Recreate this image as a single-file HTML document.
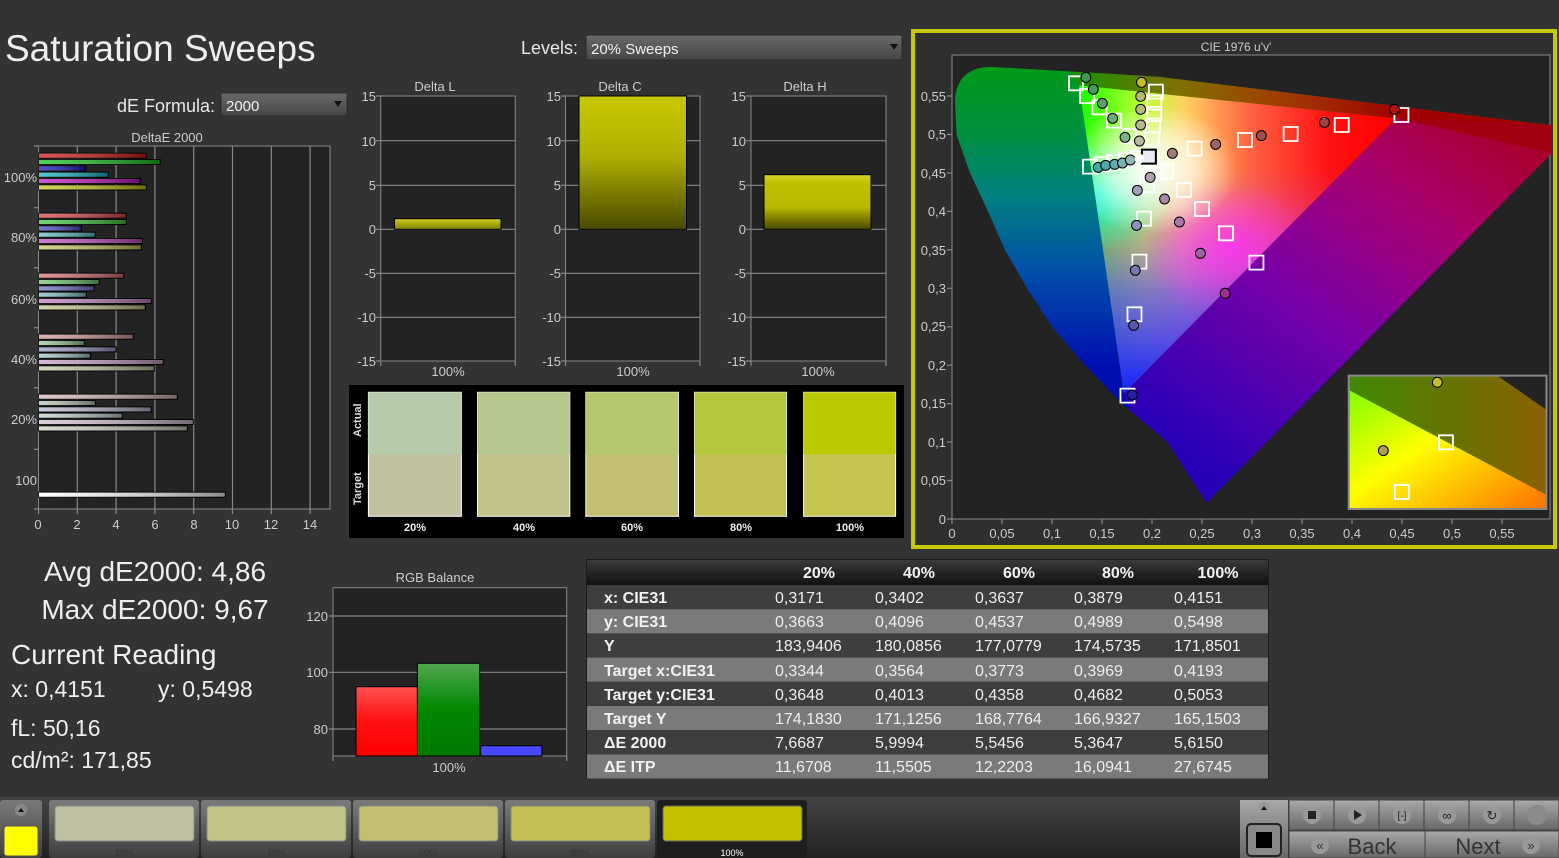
<!DOCTYPE html>
<html><head><meta charset="utf-8"><style>
html,body{margin:0;padding:0;background:#333;}
svg{display:block;}
text{font-family:"Liberation Sans",sans-serif;}
</style></head><body>
<svg width="1559" height="858" viewBox="0 0 1559 858" xmlns="http://www.w3.org/2000/svg">
<defs>
<linearGradient id="shade" x1="0" x2="1" y1="0" y2="0"><stop offset="0" stop-color="#fff" stop-opacity="0.25"/><stop offset="1" stop-color="#000" stop-opacity="0.45"/></linearGradient>
<linearGradient id="ybar" x1="0" x2="0" y1="0" y2="1"><stop offset="0" stop-color="#c8c800"/><stop offset="0.45" stop-color="#b0b000"/><stop offset="1" stop-color="#4a4a00"/></linearGradient>
<linearGradient id="ybarH" x1="0" x2="0" y1="0" y2="1"><stop offset="0" stop-color="#d4d430"/><stop offset="0.15" stop-color="#c0c000"/><stop offset="0.6" stop-color="#b8b800"/><stop offset="1" stop-color="#4a4a00"/></linearGradient>
<linearGradient id="ybarL" x1="0" x2="0" y1="0" y2="1"><stop offset="0" stop-color="#d0d020"/><stop offset="1" stop-color="#808000"/></linearGradient>
<linearGradient id="rbar" x1="0" x2="0" y1="0" y2="1"><stop offset="0" stop-color="#ff5050"/><stop offset="0.5" stop-color="#ff1010"/><stop offset="1" stop-color="#f00"/></linearGradient>
<linearGradient id="gbar" x1="0" x2="0" y1="0" y2="1"><stop offset="0" stop-color="#50a850"/><stop offset="0.5" stop-color="#008800"/><stop offset="1" stop-color="#007800"/></linearGradient>
<linearGradient id="dd" x1="0" x2="0" y1="0" y2="1"><stop offset="0" stop-color="#6a6a6a"/><stop offset="1" stop-color="#454545"/></linearGradient>
<linearGradient id="thead" x1="0" x2="0" y1="0" y2="1"><stop offset="0" stop-color="#3a3a3a"/><stop offset="1" stop-color="#111"/></linearGradient>
<linearGradient id="btm" x1="0" x2="0" y1="0" y2="1"><stop offset="0" stop-color="#444"/><stop offset="1" stop-color="#222"/></linearGradient>
<linearGradient id="btn" x1="0" x2="0" y1="0" y2="1"><stop offset="0" stop-color="#7a7a7a"/><stop offset="1" stop-color="#3e3e3e"/></linearGradient>
<linearGradient id="btn2" x1="0" x2="0" y1="0" y2="1"><stop offset="0" stop-color="#a8a8a8"/><stop offset="1" stop-color="#686868"/></linearGradient>
<linearGradient id="outerV" gradientUnits="userSpaceOnUse" x1="0" y1="0.59" x2="0" y2="0"><stop offset="0" stop-color="#009a18"/><stop offset="0.15" stop-color="#009040"/><stop offset="0.29" stop-color="#008080"/><stop offset="0.45" stop-color="#0050a8"/><stop offset="0.66" stop-color="#0010b0"/><stop offset="1" stop-color="#0000a0"/></linearGradient>
<linearGradient id="purp" gradientUnits="userSpaceOnUse" x1="0.22" y1="0.1" x2="0.6" y2="0.5"><stop offset="0" stop-color="#2800b8"/><stop offset="0.4" stop-color="#7800a8"/><stop offset="0.7" stop-color="#a80070"/><stop offset="1" stop-color="#a80020"/></linearGradient>
<linearGradient id="topband" gradientUnits="userSpaceOnUse" x1="0.13" y1="0" x2="0.45" y2="0"><stop offset="0" stop-color="#209000"/><stop offset="0.3" stop-color="#807000"/><stop offset="0.6" stop-color="#a04000"/><stop offset="1" stop-color="#a00000"/></linearGradient>
<linearGradient id="triH" gradientUnits="userSpaceOnUse" x1="0.13" y1="0" x2="0.44" y2="0"><stop offset="0" stop-color="#20ff00"/><stop offset="0.2" stop-color="#c0ff30"/><stop offset="0.33" stop-color="#ffd060"/><stop offset="0.55" stop-color="#ff6040"/><stop offset="0.8" stop-color="#ff1010"/><stop offset="1" stop-color="#ff0000"/></linearGradient>
<linearGradient id="triV" gradientUnits="userSpaceOnUse" x1="0" y1="0.16" x2="0" y2="0.46"><stop offset="0" stop-color="#1020ff" stop-opacity="1"/><stop offset="0.45" stop-color="#6040ff" stop-opacity="0.7"/><stop offset="0.75" stop-color="#c040ff" stop-opacity="0.3"/><stop offset="1" stop-color="#c040ff" stop-opacity="0"/></linearGradient>
<radialGradient id="triW" gradientUnits="userSpaceOnUse" cx="0.2" cy="0.455" r="0.085"><stop offset="0" stop-color="#fff" stop-opacity="1"/><stop offset="0.5" stop-color="#fff" stop-opacity="0.65"/><stop offset="1" stop-color="#fff" stop-opacity="0"/></radialGradient>
<radialGradient id="triC" gradientUnits="userSpaceOnUse" cx="0.15" cy="0.42" r="0.07"><stop offset="0" stop-color="#00ffff" stop-opacity="0.8"/><stop offset="1" stop-color="#00ffff" stop-opacity="0"/></radialGradient>
<radialGradient id="triM" gradientUnits="userSpaceOnUse" cx="0.28" cy="0.35" r="0.09"><stop offset="0" stop-color="#ff30ff" stop-opacity="0.8"/><stop offset="1" stop-color="#ff30ff" stop-opacity="0"/></radialGradient>
<clipPath id="horse"><path d="M0.2546,0.021 L0.2155,0.1 L0.17,0.15 L0.133,0.2 L0.1,0.25 L0.075,0.3 L0.053,0.35 L0.036,0.4 L0.018,0.45 L0.0045,0.5 L0.003,0.545 Q0.005,0.588 0.04,0.588 L0.207,0.575 L0.6,0.512 L0.6,0.476 Z"/></clipPath>
<linearGradient id="insB" x1="0" y1="0" x2="1" y2="1"><stop offset="0" stop-color="#70ff00"/><stop offset="0.45" stop-color="#ffff00"/><stop offset="1" stop-color="#ff7000"/></linearGradient>
<linearGradient id="insD" x1="0" y1="0" x2="1" y2="0"><stop offset="0" stop-color="#408a00"/><stop offset="1" stop-color="#8a6000"/></linearGradient>
</defs>

<rect width="1559" height="858" fill="#333"/>

<text x="5" y="61" font-size="37" fill="#eee">Saturation Sweeps</text>
<text x="215" y="112" font-size="18" fill="#e8e8e8" text-anchor="end">dE Formula:</text>
<rect x="221" y="93" width="126" height="23" fill="url(#dd)" stroke="#2a2a2a"/>
<text x="226" y="111" font-size="15" fill="#f0f0f0">2000</text>
<path d="M334,101 l8,0 l-4,6z" fill="#111"/>
<text x="578" y="54" font-size="18" fill="#e8e8e8" text-anchor="end">Levels:</text>
<rect x="586" y="35" width="316" height="25" fill="url(#dd)" stroke="#2a2a2a"/>
<text x="591" y="54" font-size="15" fill="#f0f0f0">20% Sweeps</text>
<path d="M890,44 l8,0 l-4,6z" fill="#111"/>

<text x="167" y="142" font-size="13" fill="#ccc" text-anchor="middle">DeltaE 2000</text>
<rect x="38.5" y="146" width="291.5" height="363" fill="#232323" stroke="#888"/>
<g stroke="#888" stroke-width="1.2">
<line x1="77.3" y1="146" x2="77.3" y2="509"/><line x1="116.1" y1="146" x2="116.1" y2="509"/><line x1="154.9" y1="146" x2="154.9" y2="509"/><line x1="193.7" y1="146" x2="193.7" y2="509"/><line x1="232.5" y1="146" x2="232.5" y2="509"/><line x1="271.3" y1="146" x2="271.3" y2="509"/><line x1="310.1" y1="146" x2="310.1" y2="509"/>
<line x1="34" y1="146" x2="38.5" y2="146"/><line x1="34" y1="207.7" x2="38.5" y2="207.7"/><line x1="34" y1="267.7" x2="38.5" y2="267.7"/><line x1="34" y1="327.7" x2="38.5" y2="327.7"/><line x1="34" y1="387.7" x2="38.5" y2="387.7"/><line x1="34" y1="449.3" x2="38.5" y2="449.3"/><line x1="34" y1="509" x2="38.5" y2="509"/>
<line x1="38.5" y1="509" x2="38.5" y2="514"/><line x1="77.3" y1="509" x2="77.3" y2="514"/><line x1="116.1" y1="509" x2="116.1" y2="514"/><line x1="154.9" y1="509" x2="154.9" y2="514"/><line x1="193.7" y1="509" x2="193.7" y2="514"/><line x1="232.5" y1="509" x2="232.5" y2="514"/><line x1="271.3" y1="509" x2="271.3" y2="514"/><line x1="310.1" y1="509" x2="310.1" y2="514"/>
</g>
<g font-size="13" fill="#ccc" text-anchor="end">
<text x="37" y="182">100%</text><text x="37" y="242">80%</text><text x="37" y="304">60%</text><text x="37" y="364">40%</text><text x="37" y="424">20%</text><text x="37" y="485">100</text>
</g>
<g font-size="13" fill="#ccc" text-anchor="middle">
<text x="38" y="529">0</text><text x="77" y="529">2</text><text x="116" y="529">4</text><text x="155" y="529">6</text><text x="194" y="529">8</text><text x="232" y="529">10</text><text x="271" y="529">12</text><text x="310" y="529">14</text>
</g>
<g stroke="#000" stroke-width="1">
<rect x="38.5" y="153.2" width="108.2" height="5" fill="#d01818"/><rect x="38.5" y="159.5" width="121.8" height="5" fill="#18c020"/><rect x="38.5" y="165.9" width="47.2" height="5" fill="#1818c0"/><rect x="38.5" y="172.2" width="69.8" height="5" fill="#18b8c0"/><rect x="38.5" y="178.5" width="101.8" height="5" fill="#c018c0"/><rect x="38.5" y="184.9" width="107.8" height="5" fill="#c8c818"/>
<rect x="38.5" y="213.2" width="87.8" height="5" fill="#d84848"/><rect x="38.5" y="219.5" width="87.8" height="5" fill="#40c840"/><rect x="38.5" y="225.9" width="42.8" height="5" fill="#4848c8"/><rect x="38.5" y="232.2" width="56.8" height="5" fill="#60c0c0"/><rect x="38.5" y="238.5" width="103.8" height="5" fill="#c050c0"/><rect x="38.5" y="244.9" width="102.8" height="5" fill="#c8c860"/>
<rect x="38.5" y="273.2" width="85.2" height="5" fill="#d87070"/><rect x="38.5" y="279.5" width="60.8" height="5" fill="#70c870"/><rect x="38.5" y="285.9" width="55.8" height="5" fill="#7070c8"/><rect x="38.5" y="292.2" width="47.8" height="5" fill="#80c0c0"/><rect x="38.5" y="298.5" width="112.8" height="5" fill="#c080c0"/><rect x="38.5" y="304.9" width="106.8" height="5" fill="#c8c890"/>
<rect x="38.5" y="334.2" width="94.8" height="5" fill="#d89898"/><rect x="38.5" y="340.5" width="45.8" height="5" fill="#98c898"/><rect x="38.5" y="346.9" width="77.8" height="5" fill="#9898c8"/><rect x="38.5" y="353.2" width="51.8" height="5" fill="#a0c8c8"/><rect x="38.5" y="359.5" width="124.8" height="5" fill="#c8a0c8"/><rect x="38.5" y="365.9" width="115.8" height="5" fill="#c8c8a8"/>
<rect x="38.5" y="394.2" width="138.8" height="5" fill="#d8b8b8"/><rect x="38.5" y="400.5" width="56.8" height="5" fill="#b8c8b8"/><rect x="38.5" y="406.9" width="112.8" height="5" fill="#b8b8d0"/><rect x="38.5" y="413.2" width="83.8" height="5" fill="#c0d0d0"/><rect x="38.5" y="419.5" width="154.8" height="5" fill="#d0c0d0"/><rect x="38.5" y="425.9" width="148.8" height="5" fill="#d0d0c0"/>
<rect x="38.5" y="492.2" width="186.8" height="5" fill="#ffffff"/>
</g>
<g fill="url(#shade)">
<rect x="38.5" y="153.2" width="108.2" height="5"/><rect x="38.5" y="159.5" width="121.8" height="5"/><rect x="38.5" y="165.9" width="47.2" height="5"/><rect x="38.5" y="172.2" width="69.8" height="5"/><rect x="38.5" y="178.5" width="101.8" height="5"/><rect x="38.5" y="184.9" width="107.8" height="5"/>
<rect x="38.5" y="213.2" width="87.8" height="5"/><rect x="38.5" y="219.5" width="87.8" height="5"/><rect x="38.5" y="225.9" width="42.8" height="5"/><rect x="38.5" y="232.2" width="56.8" height="5"/><rect x="38.5" y="238.5" width="103.8" height="5"/><rect x="38.5" y="244.9" width="102.8" height="5"/>
<rect x="38.5" y="273.2" width="85.2" height="5"/><rect x="38.5" y="279.5" width="60.8" height="5"/><rect x="38.5" y="285.9" width="55.8" height="5"/><rect x="38.5" y="292.2" width="47.8" height="5"/><rect x="38.5" y="298.5" width="112.8" height="5"/><rect x="38.5" y="304.9" width="106.8" height="5"/>
<rect x="38.5" y="334.2" width="94.8" height="5"/><rect x="38.5" y="340.5" width="45.8" height="5"/><rect x="38.5" y="346.9" width="77.8" height="5"/><rect x="38.5" y="353.2" width="51.8" height="5"/><rect x="38.5" y="359.5" width="124.8" height="5"/><rect x="38.5" y="365.9" width="115.8" height="5"/>
<rect x="38.5" y="394.2" width="138.8" height="5"/><rect x="38.5" y="400.5" width="56.8" height="5"/><rect x="38.5" y="406.9" width="112.8" height="5"/><rect x="38.5" y="413.2" width="83.8" height="5"/><rect x="38.5" y="419.5" width="154.8" height="5"/><rect x="38.5" y="425.9" width="148.8" height="5"/>
<rect x="38.5" y="492.2" width="186.8" height="5"/>
</g>

<g font-size="13" fill="#ccc" text-anchor="middle">
<text x="435" y="91">Delta L</text><text x="620" y="91">Delta C</text><text x="805" y="91">Delta H</text>
<text x="448" y="376">100%</text><text x="633" y="376">100%</text><text x="818" y="376">100%</text>
</g>
<g>
<rect x="380.7" y="96" width="134.6" height="265" fill="#232323" stroke="#888"/>
<rect x="565.5" y="96" width="134.5" height="265" fill="#232323" stroke="#888"/>
<rect x="751" y="96" width="135" height="265" fill="#232323" stroke="#888"/>
</g>
<g stroke="#888" stroke-width="1.2">
<path d="M380.7,140.7H515.3M380.7,185.3H515.3M380.7,229.3H515.3M380.7,273.3H515.3M380.7,317.3H515.3"/>
<path d="M565.5,140.7H700M565.5,185.3H700M565.5,229.3H700M565.5,273.3H700M565.5,317.3H700"/>
<path d="M751,140.7H886M751,185.3H886M751,229.3H886M751,273.3H886M751,317.3H886"/>
<path d="M376,96h5M376,140.7h5M376,185.3h5M376,229.3h5M376,273.3h5M376,317.3h5M376,361h5M380.7,361v5M515.3,361v5"/>
<path d="M561,96h5M561,140.7h5M561,185.3h5M561,229.3h5M561,273.3h5M561,317.3h5M561,361h5M565.5,361v5M700,361v5"/>
<path d="M746,96h5M746,140.7h5M746,185.3h5M746,229.3h5M746,273.3h5M746,317.3h5M746,361h5M751,361v5M886,361v5"/>
</g>
<g font-size="13" fill="#ccc" text-anchor="end">
<text x="376" y="101">15</text><text x="376" y="146">10</text><text x="376" y="190">5</text><text x="376" y="234">0</text><text x="376" y="278">-5</text><text x="376" y="322">-10</text><text x="376" y="366">-15</text>
<text x="561" y="101">15</text><text x="561" y="146">10</text><text x="561" y="190">5</text><text x="561" y="234">0</text><text x="561" y="278">-5</text><text x="561" y="322">-10</text><text x="561" y="366">-15</text>
<text x="746" y="101">15</text><text x="746" y="146">10</text><text x="746" y="190">5</text><text x="746" y="234">0</text><text x="746" y="278">-5</text><text x="746" y="322">-10</text><text x="746" y="366">-15</text>
</g>
<rect x="394.5" y="218.7" width="106.5" height="10.6" fill="url(#ybarL)" stroke="#000"/>
<rect x="579" y="96" width="107.5" height="133.3" fill="url(#ybar)" stroke="#000"/>
<rect x="764" y="174.7" width="107" height="54.6" fill="url(#ybarH)" stroke="#000"/>

<rect x="349" y="385" width="555" height="153" fill="#000"/>
<text transform="translate(361,437) rotate(-90)" font-size="11" fill="#ddd" font-weight="bold">Actual</text>
<text transform="translate(361,505) rotate(-90)" font-size="11" fill="#ddd" font-weight="bold">Target</text>
<g stroke="#fff" stroke-width="1">
<rect x="368.4" y="392.3" width="93" height="124" fill="#c1c1a0"/><rect x="368.4" y="392.3" width="93" height="62" fill="#b5c9ab" stroke="none"/>
<rect x="477.5" y="392.3" width="92.3" height="124" fill="#c2c28a"/><rect x="477.5" y="392.3" width="92.3" height="62" fill="#b5c98e" stroke="none"/>
<rect x="585.8" y="392.3" width="92.7" height="124" fill="#c2c070"/><rect x="585.8" y="392.3" width="92.7" height="62" fill="#b5c86e" stroke="none"/>
<rect x="694.5" y="392.3" width="92" height="124" fill="#c2c050"/><rect x="694.5" y="392.3" width="92" height="62" fill="#b4c63c" stroke="none"/>
<rect x="803.6" y="392.3" width="92" height="124" fill="#c4c44e"/><rect x="803.6" y="392.3" width="92" height="62" fill="#bac800" stroke="none"/>
</g>
<g font-size="11" fill="#eee" text-anchor="middle" font-weight="bold">
<text x="415" y="531">20%</text><text x="524" y="531">40%</text><text x="632" y="531">60%</text><text x="741" y="531">80%</text><text x="850" y="531">100%</text>
</g>

<g fill="#eee">
<text x="155" y="581" font-size="28" text-anchor="middle">Avg dE2000: 4,86</text>
<text x="155" y="619" font-size="28" text-anchor="middle">Max dE2000: 9,67</text>
<text x="11" y="664" font-size="28">Current Reading</text>
<text x="11" y="697" font-size="23">x: 0,4151</text>
<text x="158" y="697" font-size="23">y: 0,5498</text>
<text x="11" y="736" font-size="23">fL: 50,16</text>
<text x="11" y="768" font-size="23">cd/m²: 171,85</text>
</g>

<text x="435" y="582" font-size="13" fill="#ccc" text-anchor="middle">RGB Balance</text>
<rect x="333" y="587.7" width="233.7" height="168.3" fill="#232323" stroke="#888"/>
<g stroke="#888" stroke-width="1.2"><path d="M333,616H566.7M333,672.3H566.7M333,729H566.7M329,616h4M329,672.3h4M329,729h4M333,756v5M566.7,756v5"/></g>
<g font-size="13" fill="#ccc" text-anchor="end"><text x="328" y="621">120</text><text x="328" y="677">100</text><text x="328" y="734">80</text></g>
<text x="449" y="772" font-size="13" fill="#ccc" text-anchor="middle">100%</text>
<rect x="356" y="686.7" width="61.4" height="69.3" fill="url(#rbar)" stroke="#000"/>
<rect x="417.4" y="663.3" width="62.2" height="92.7" fill="url(#gbar)" stroke="#000"/>
<rect x="480.7" y="745.7" width="61.2" height="10.3" fill="#4848ff" stroke="#000"/>

<rect x="586" y="559" width="683" height="220" fill="#1a1a1a"/>
<rect x="587" y="560" width="681" height="25" fill="url(#thead)"/>
<rect x="587" y="585" width="681" height="24.2" fill="#3e3e3e"/>
<rect x="587" y="609.2" width="681" height="24.2" fill="#7a7a7a"/>
<rect x="587" y="633.4" width="681" height="24.2" fill="#3e3e3e"/>
<rect x="587" y="657.6" width="681" height="24.2" fill="#7a7a7a"/>
<rect x="587" y="681.8" width="681" height="24.2" fill="#3e3e3e"/>
<rect x="587" y="706" width="681" height="24.2" fill="#7a7a7a"/>
<rect x="587" y="730.2" width="681" height="24.2" fill="#3e3e3e"/>
<rect x="587" y="754.4" width="681" height="24.2" fill="#7a7a7a"/>
<g font-size="16" fill="#f2f2f2" text-anchor="middle" font-weight="bold">
<text x="819" y="578">20%</text><text x="919" y="578">40%</text><text x="1019" y="578">60%</text><text x="1118" y="578">80%</text><text x="1218" y="578">100%</text>
</g>
<g font-size="16" fill="#f2f2f2" font-weight="bold">
<text x="604" y="603">x: CIE31</text><text x="604" y="627">y: CIE31</text><text x="604" y="651">Y</text><text x="604" y="676">Target x:CIE31</text><text x="604" y="700">Target y:CIE31</text><text x="604" y="724">Target Y</text><text x="604" y="748">ΔE 2000</text><text x="604" y="772">ΔE ITP</text>
</g>
<g font-size="16" fill="#eee">
<text x="775" y="603">0,3171</text><text x="875" y="603">0,3402</text><text x="975" y="603">0,3637</text><text x="1074" y="603">0,3879</text><text x="1174" y="603">0,4151</text>
<text x="775" y="627">0,3663</text><text x="875" y="627">0,4096</text><text x="975" y="627">0,4537</text><text x="1074" y="627">0,4989</text><text x="1174" y="627">0,5498</text>
<text x="775" y="651">183,9406</text><text x="875" y="651">180,0856</text><text x="975" y="651">177,0779</text><text x="1074" y="651">174,5735</text><text x="1174" y="651">171,8501</text>
<text x="775" y="676">0,3344</text><text x="875" y="676">0,3564</text><text x="975" y="676">0,3773</text><text x="1074" y="676">0,3969</text><text x="1174" y="676">0,4193</text>
<text x="775" y="700">0,3648</text><text x="875" y="700">0,4013</text><text x="975" y="700">0,4358</text><text x="1074" y="700">0,4682</text><text x="1174" y="700">0,5053</text>
<text x="775" y="724">174,1830</text><text x="875" y="724">171,1256</text><text x="975" y="724">168,7764</text><text x="1074" y="724">166,9327</text><text x="1174" y="724">165,1503</text>
<text x="775" y="748">7,6687</text><text x="875" y="748">5,9994</text><text x="975" y="748">5,5456</text><text x="1074" y="748">5,3647</text><text x="1174" y="748">5,6150</text>
<text x="775" y="772">11,6708</text><text x="875" y="772">11,5505</text><text x="975" y="772">12,2203</text><text x="1074" y="772">16,0941</text><text x="1174" y="772">27,6745</text>
</g>

<rect x="913" y="31" width="642" height="516" fill="#2f2f2f" stroke="#c8c800" stroke-width="4"/>
<text x="1236" y="51" font-size="12" fill="#ccc" text-anchor="middle">CIE 1976 u'v'</text>
<rect x="952" y="55" width="598" height="464" fill="#232323" stroke="#888"/>
<g transform="matrix(1000 0 0 -769 952 519)">
<g clip-path="url(#horse)">
<rect x="0" y="0" width="0.6" height="0.6" fill="url(#outerV)"/>
<polygon points="0.172,0.164 0.444,0.521 0.6,0.512 0.6,0.476 0.2546,0.021 0.2,0.05" fill="url(#purp)"/>
<polygon points="0.127,0.564 0.11,0.6 0.6,0.6 0.6,0.512 0.444,0.521" fill="url(#topband)"/>
<polygon points="0.444,0.521 0.6,0.512 0.6,0.476" fill="#a00010"/>
</g>
<polygon points="0.127,0.564 0.444,0.521 0.172,0.164" fill="url(#triH)"/>
<polygon points="0.127,0.564 0.444,0.521 0.172,0.164" fill="url(#triV)"/>
<polygon points="0.127,0.564 0.444,0.521 0.172,0.164" fill="url(#triM)"/>
<polygon points="0.127,0.564 0.444,0.521 0.172,0.164" fill="url(#triC)"/>
<polygon points="0.127,0.564 0.444,0.521 0.172,0.164" fill="url(#triW)"/>
</g>
<g stroke="#888" stroke-width="1.2">
<path d="M947,519h5M947,480.5h5M947,442h5M947,403.6h5M947,365.2h5M947,326.8h5M947,288.3h5M947,249.9h5M947,211.4h5M947,173h5M947,134.5h5M947,96h5"/>
<path d="M952,519v5M1002,519v5M1052,519v5M1102,519v5M1152,519v5M1202,519v5M1252,519v5M1302,519v5M1352,519v5M1402,519v5M1452,519v5M1502,519v5"/>
</g>
<g font-size="13" fill="#ccc" text-anchor="end">
<text x="946" y="524">0</text><text x="946" y="485">0,05</text><text x="946" y="447">0,1</text><text x="946" y="408">0,15</text><text x="946" y="370">0,2</text><text x="946" y="331">0,25</text><text x="946" y="293">0,3</text><text x="946" y="255">0,35</text><text x="946" y="216">0,4</text><text x="946" y="178">0,45</text><text x="946" y="139">0,5</text><text x="946" y="101">0,55</text>
</g>
<g font-size="13" fill="#ccc" text-anchor="middle">
<text x="952" y="538">0</text><text x="1002" y="538">0,05</text><text x="1052" y="538">0,1</text><text x="1102" y="538">0,15</text><text x="1152" y="538">0,2</text><text x="1202" y="538">0,25</text><text x="1252" y="538">0,3</text><text x="1302" y="538">0,35</text><text x="1352" y="538">0,4</text><text x="1402" y="538">0,45</text><text x="1452" y="538">0,5</text><text x="1502" y="538">0,55</text>
</g>
<g transform="translate(912,30) scale(0.4120,0.3333)">
<g fill="none" stroke="#fff" stroke-width="1.8">
<rect x="381" y="139" width="34" height="42" vector-effect="non-scaling-stroke"/><rect x="408" y="177" width="34" height="42" vector-effect="non-scaling-stroke"/><rect x="438" y="211" width="34" height="42" vector-effect="non-scaling-stroke"/><rect x="473" y="251" width="34" height="42" vector-effect="non-scaling-stroke"/><rect x="510" y="297" width="34" height="42" vector-effect="non-scaling-stroke"/>
<rect x="415" y="389" width="34" height="42" vector-effect="non-scaling-stroke"/><rect x="443" y="382" width="34" height="42" vector-effect="non-scaling-stroke"/><rect x="473" y="376" width="34" height="42" vector-effect="non-scaling-stroke"/><rect x="503" y="369" width="34" height="42" vector-effect="non-scaling-stroke"/><rect x="531" y="363" width="34" height="42" vector-effect="non-scaling-stroke"/>
<rect x="575" y="164" width="34" height="42" vector-effect="non-scaling-stroke"/><rect x="571" y="197" width="34" height="42" vector-effect="non-scaling-stroke"/><rect x="571" y="231" width="34" height="42" vector-effect="non-scaling-stroke"/><rect x="568" y="266" width="34" height="42" vector-effect="non-scaling-stroke"/><rect x="565" y="307" width="34" height="42" vector-effect="non-scaling-stroke"/>
<rect x="669" y="335" width="34" height="42" vector-effect="non-scaling-stroke"/><rect x="791" y="309" width="34" height="42" vector-effect="non-scaling-stroke"/><rect x="902" y="291" width="34" height="42" vector-effect="non-scaling-stroke"/><rect x="1026" y="264" width="34" height="42" vector-effect="non-scaling-stroke"/><rect x="1171" y="234" width="34" height="42" vector-effect="non-scaling-stroke"/>
<rect x="600" y="404" width="34" height="42" vector-effect="non-scaling-stroke"/><rect x="643" y="459" width="34" height="42" vector-effect="non-scaling-stroke"/><rect x="687" y="516" width="34" height="42" vector-effect="non-scaling-stroke"/><rect x="745" y="589" width="34" height="42" vector-effect="non-scaling-stroke"/><rect x="819" y="677" width="34" height="42" vector-effect="non-scaling-stroke"/>
<rect x="553" y="444" width="34" height="42" vector-effect="non-scaling-stroke"/><rect x="546" y="545" width="34" height="42" vector-effect="non-scaling-stroke"/><rect x="535" y="674" width="34" height="42" vector-effect="non-scaling-stroke"/><rect x="523" y="832" width="34" height="42" vector-effect="non-scaling-stroke"/><rect x="506" y="1076" width="34" height="42" vector-effect="non-scaling-stroke"/>
</g>
<rect x="558" y="359" width="34" height="42" fill="#e8e8f0" stroke="#000" stroke-width="2" vector-effect="non-scaling-stroke"/>
<g stroke="#000" stroke-width="1">
<ellipse cx="422" cy="142" rx="12" ry="15" fill="#3c9a4c" vector-effect="non-scaling-stroke"/><ellipse cx="440" cy="178" rx="12" ry="15" fill="#4a9a5a" vector-effect="non-scaling-stroke"/><ellipse cx="462" cy="220" rx="12" ry="15" fill="#5aa068" vector-effect="non-scaling-stroke"/><ellipse cx="487" cy="265" rx="12" ry="15" fill="#6aa878" vector-effect="non-scaling-stroke"/><ellipse cx="517" cy="322" rx="12" ry="15" fill="#80b088" vector-effect="non-scaling-stroke"/>
<ellipse cx="452" cy="412" rx="12" ry="15" fill="#40a8a8" vector-effect="non-scaling-stroke"/><ellipse cx="470" cy="406" rx="12" ry="15" fill="#50a8a8" vector-effect="non-scaling-stroke"/><ellipse cx="492" cy="403" rx="12" ry="15" fill="#60acac" vector-effect="non-scaling-stroke"/><ellipse cx="511" cy="399" rx="12" ry="15" fill="#78b0b0" vector-effect="non-scaling-stroke"/><ellipse cx="530" cy="390" rx="12" ry="15" fill="#90b8b4" vector-effect="non-scaling-stroke"/>
<ellipse cx="557" cy="157" rx="12" ry="15" fill="#c8c020" vector-effect="non-scaling-stroke"/><ellipse cx="555" cy="199" rx="12" ry="15" fill="#b8b870" vector-effect="non-scaling-stroke"/><ellipse cx="555" cy="238" rx="12" ry="15" fill="#b8b880" vector-effect="non-scaling-stroke"/><ellipse cx="555" cy="285" rx="12" ry="15" fill="#b8b890" vector-effect="non-scaling-stroke"/><ellipse cx="552" cy="333" rx="12" ry="15" fill="#b8b8a0" vector-effect="non-scaling-stroke"/>
<ellipse cx="632" cy="370" rx="12" ry="15" fill="#a87878" vector-effect="non-scaling-stroke"/><ellipse cx="737" cy="343" rx="12" ry="15" fill="#a06464" vector-effect="non-scaling-stroke"/><ellipse cx="848" cy="317" rx="12" ry="15" fill="#a05050" vector-effect="non-scaling-stroke"/><ellipse cx="1001" cy="277" rx="12" ry="15" fill="#a04040" vector-effect="non-scaling-stroke"/><ellipse cx="1171" cy="238" rx="12" ry="15" fill="#b01010" vector-effect="non-scaling-stroke"/>
<ellipse cx="578" cy="442" rx="12" ry="15" fill="#b0a0b0" vector-effect="non-scaling-stroke"/><ellipse cx="613" cy="507" rx="12" ry="15" fill="#a888a8" vector-effect="non-scaling-stroke"/><ellipse cx="649" cy="576" rx="12" ry="15" fill="#a878a8" vector-effect="non-scaling-stroke"/><ellipse cx="700" cy="670" rx="12" ry="15" fill="#a060a0" vector-effect="non-scaling-stroke"/><ellipse cx="760" cy="790" rx="12" ry="15" fill="#a03090" vector-effect="non-scaling-stroke"/>
<ellipse cx="547" cy="481" rx="12" ry="15" fill="#a0a0b8" vector-effect="non-scaling-stroke"/><ellipse cx="545" cy="586" rx="12" ry="15" fill="#9090b8" vector-effect="non-scaling-stroke"/><ellipse cx="542" cy="721" rx="12" ry="15" fill="#7878b0" vector-effect="non-scaling-stroke"/><ellipse cx="538" cy="886" rx="12" ry="15" fill="#5858a8" vector-effect="non-scaling-stroke"/><ellipse cx="535" cy="1095" rx="12" ry="15" fill="#2020a0" vector-effect="non-scaling-stroke"/>
</g>
<ellipse cx="552" cy="386" rx="12" ry="15" fill="#fff"/>
<rect x="1060" y="1037" width="480" height="400" fill="url(#insB)"/>
<polygon points="1060,1037 1420,1037 1540,1140 1540,1395 1060,1080" fill="url(#insD)"/>
<polygon points="1420,1037 1540,1037 1540,1140" fill="#232323"/>
<rect x="1060" y="1037" width="480" height="400" fill="none" stroke="#888" stroke-width="2" vector-effect="non-scaling-stroke"/>
<ellipse cx="1275" cy="1057" rx="12" ry="15" fill="#c8c020" stroke="#000" vector-effect="non-scaling-stroke"/>
<ellipse cx="1144" cy="1262" rx="12" ry="15" fill="#a8a050" stroke="#000" vector-effect="non-scaling-stroke"/>
<rect x="1279" y="1216" width="34" height="42" fill="none" stroke="#fff" stroke-width="1.8" vector-effect="non-scaling-stroke"/>
<rect x="1172" y="1365" width="34" height="42" fill="none" stroke="#fff" stroke-width="1.8" vector-effect="non-scaling-stroke"/>
</g>

<rect x="0" y="797" width="1559" height="61" fill="url(#btm)"/>
<rect x="0" y="800" width="42" height="58" rx="3" fill="url(#btn)"/>
<circle cx="21" cy="810" r="6" fill="#888"/><path d="M18,812 l6,0 l-3,-4z" fill="#111"/>
<rect x="4" y="826" width="34" height="30" rx="3" fill="#ffff00" stroke="#555"/>
<g>
<rect x="49" y="800" width="150" height="58" rx="3" fill="url(#btn)"/><rect x="55" y="806" width="139" height="35" rx="3" fill="#c0c0a2" stroke="#888"/>
<rect x="201" y="800" width="150" height="58" rx="3" fill="url(#btn)"/><rect x="207" y="806" width="139" height="35" rx="3" fill="#c4c48a" stroke="#888"/>
<rect x="353" y="800" width="150" height="58" rx="3" fill="url(#btn)"/><rect x="359" y="806" width="139" height="35" rx="3" fill="#c2c070" stroke="#888"/>
<rect x="505" y="800" width="150" height="58" rx="3" fill="url(#btn)"/><rect x="511" y="806" width="139" height="35" rx="3" fill="#c2c050" stroke="#888"/>
<rect x="657" y="800" width="150" height="58" rx="3" fill="#1e1e1e"/><rect x="663" y="806" width="139" height="35" rx="3" fill="#c4c000" stroke="#666"/>
</g>
<g font-size="9" text-anchor="middle"><text x="124" y="856" fill="#333">20%</text><text x="276" y="856" fill="#333">40%</text><text x="428" y="856" fill="#333">60%</text><text x="580" y="856" fill="#333">80%</text><text x="732" y="856" fill="#fff">100%</text></g>
<rect x="1240" y="800" width="48" height="58" fill="url(#btn2)"/>
<circle cx="1264" cy="808" r="6" fill="#999"/><path d="M1261,810 l6,0 l-3,-4z" fill="#111"/>
<rect x="1247" y="824" width="34" height="32" rx="4" fill="#888" stroke="#222" stroke-width="2"/><rect x="1256" y="832" width="16" height="16" fill="#000"/>
<g fill="url(#btn2)" stroke="#444">
<rect x="1289" y="800" width="45" height="30"/><rect x="1334" y="800" width="45" height="30"/><rect x="1379" y="800" width="45" height="30"/><rect x="1424" y="800" width="45" height="30"/><rect x="1469" y="800" width="45" height="30"/><rect x="1514" y="800" width="45" height="30"/>
<rect x="1289" y="831" width="136" height="27"/><rect x="1425" y="831" width="134" height="27"/>
</g>
<g fill="#999"><circle cx="1312" cy="815" r="9"/><circle cx="1357" cy="815" r="9"/><circle cx="1402" cy="815" r="9"/><circle cx="1447" cy="815" r="9"/><circle cx="1492" cy="815" r="9"/><circle cx="1537" cy="815" r="10" fill="#8a8a8a"/><circle cx="1320" cy="845" r="9"/><circle cx="1531" cy="845" r="9"/></g>
<rect x="1308" y="811" width="8" height="8" fill="#222"/><path d="M1354,810 l8,5 l-8,5z" fill="#222"/>
<text x="1402" y="819" font-size="10" fill="#222" text-anchor="middle">[-]</text>
<text x="1447" y="820" font-size="13" fill="#222" text-anchor="middle">∞</text>
<text x="1492" y="820" font-size="13" fill="#222" text-anchor="middle">↻</text>
<text x="1320" y="850" font-size="13" fill="#333" text-anchor="middle">«</text>
<text x="1531" y="850" font-size="13" fill="#333" text-anchor="middle">»</text>
<text x="1372" y="854" font-size="22" fill="#333" text-anchor="middle">Back</text>
<text x="1478" y="854" font-size="22" fill="#333" text-anchor="middle">Next</text>
</svg>
</body></html>
